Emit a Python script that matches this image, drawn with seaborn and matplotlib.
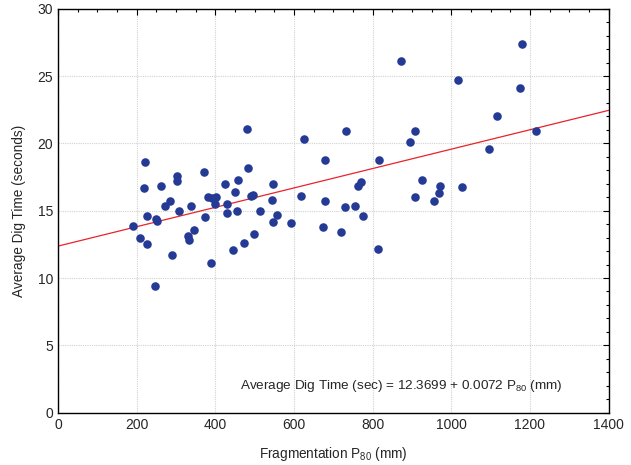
import matplotlib
matplotlib.use("Agg")
import matplotlib.pyplot as plt
import seaborn as sns
import numpy as np
import pandas as pd
from matplotlib.ticker import MultipleLocator

# Data
p80 = [480, 626, 222, 370, 482, 302, 302, 219, 262, 424, 458, 546, 450, 286, 273,
       381, 392, 403, 400, 430, 492, 497, 544, 618, 307, 339, 227, 249, 252, 190,
       373, 431, 456, 514, 557, 546, 592, 674, 208, 226, 331, 334, 345, 472, 498,
       445, 291, 390, 247,
       1116, 733, 908, 895, 1097, 679, 817, 925, 770, 762, 972, 969, 1028, 679,
       730, 754, 908, 956, 775, 719, 814, 1215, 871, 1017, 1180, 1175]
dig_time = [21.1, 20.3, 18.6, 17.85, 18.2, 17.55, 17.2, 16.7, 16.8, 17.0, 17.3, 17.0, 16.4, 15.7, 15.35,
            16.0, 15.95, 16.05, 15.5, 15.5, 16.1, 16.2, 15.8, 16.1, 14.95, 15.35, 14.6, 14.4, 14.25, 13.9,
            14.5, 14.8, 15.0, 14.95, 14.7, 14.15, 14.1, 13.8, 12.95, 12.5, 13.1, 12.8, 13.55, 12.6, 13.3,
            12.1, 11.7, 11.15, 9.4,
            22.05, 20.95, 20.95, 20.1, 19.6, 18.8, 18.8, 17.3, 17.15, 16.8, 16.85, 16.35, 16.75, 15.75,
            15.25, 15.35, 16.0, 15.75, 14.6, 13.45, 12.15, 20.95, 26.1, 24.7, 27.4, 24.1]
intercept = 12.3699
slope = 0.0072
line_x = [0, 1400]

df = pd.DataFrame({"p80": p80, "dig": dig_time})

sns.set_style("white")
plt.rcParams['font.family'] = ['Liberation Sans', 'DejaVu Sans']
plt.rcParams['mathtext.fontset'] = 'custom'
plt.rcParams['mathtext.rm'] = 'Liberation Sans'
plt.rcParams['mathtext.it'] = 'Liberation Sans'

fig = plt.figure(figsize=(6.31, 4.65), dpi=100)
ax = fig.add_axes([0.0919, 0.1125, 0.8726, 0.8688])

ax.grid(True, which='major', linestyle=(0, (1, 1)), color='#d2d2d2', linewidth=0.8)
ax.set_axisbelow(True)

lx = np.array(line_x, dtype=float)
ax.plot(lx, intercept + slope * lx, color='#e8232b', linewidth=0.9, zorder=2)

sns.scatterplot(data=df, x="p80", y="dig", ax=ax, color='#243a94', s=38,
                edgecolor='#243a94', linewidth=0, zorder=3)

ax.set_xlim(0, 1400)
ax.set_ylim(0, 30)
ax.xaxis.set_major_locator(MultipleLocator(200))
ax.xaxis.set_minor_locator(MultipleLocator(50))
ax.yaxis.set_major_locator(MultipleLocator(5))
ax.yaxis.set_minor_locator(MultipleLocator(1))
ax.tick_params(which='both', direction='in', top=True, right=True, color='black',
               labelsize=10, width=0.8)
ax.tick_params(which='major', length=4)
ax.tick_params(which='minor', length=2.5)
for sp in ax.spines.values():
    sp.set_color('black')
    sp.set_linewidth(1.0)

ax.set_xlabel("Fragmentation P$_{80}$ (mm)", fontsize=9.8, labelpad=10)
ax.set_ylabel("Average Dig Time (seconds)", fontsize=9.8, labelpad=8)

ax.text(463, 2.0, "Average Dig Time (sec) = 12.3699 + 0.0072 P$_{80}$ (mm)",
        fontsize=9.7, va='center', ha='left')

fig.savefig("out.png", dpi=100)
